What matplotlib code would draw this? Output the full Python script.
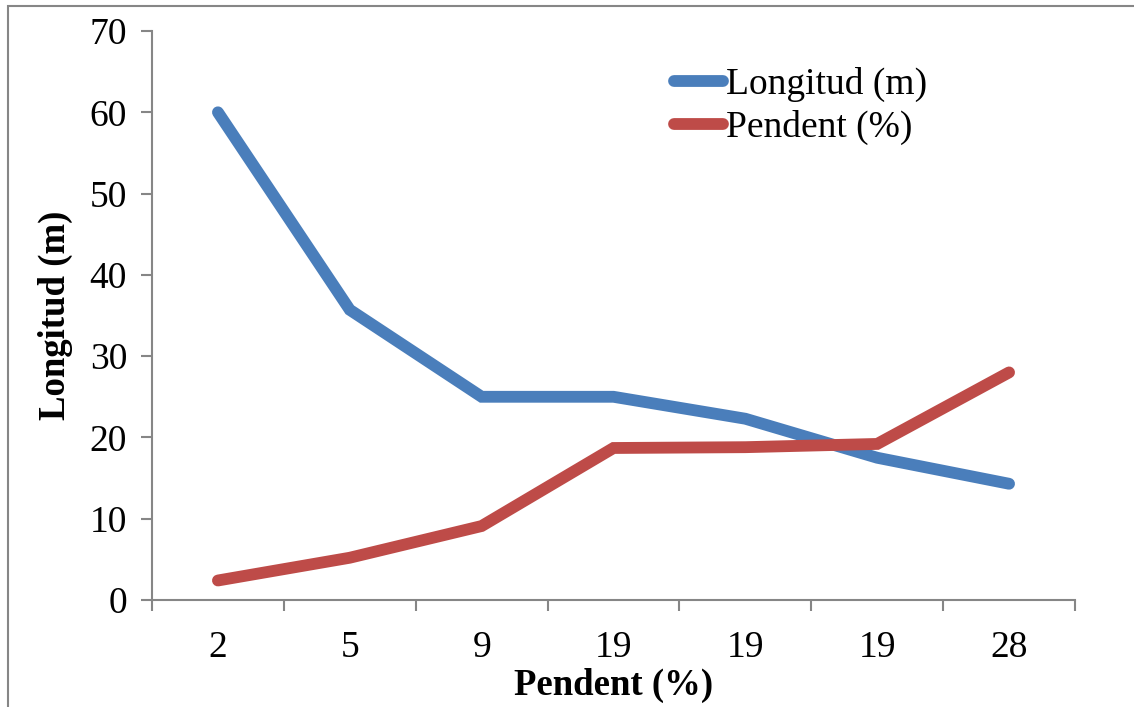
import matplotlib.pyplot as plt
from matplotlib.patches import Rectangle

categories = ['2', '5', '9', '19', '19', '19', '28']
longitud = [60.0, 35.7, 25.0, 25.0, 22.3, 17.5, 14.3]
pendent = [2.4, 5.2, 9.1, 18.7, 18.8, 19.2, 28.0]

blue = '#4A7EBB'
red = '#BE4B48'
grey = '#868686'

plt.rcParams['font.family'] = ['Liberation Serif', 'DejaVu Serif']

fig = plt.figure(figsize=(11.34, 7.07), dpi=100)
ax = fig.add_axes([152 / 1134, 1 - 600 / 707, 923 / 1134, 569 / 707])

x = list(range(len(categories)))
ax.plot(x, longitud, color=blue, lw=8.5, solid_capstyle='round',
        solid_joinstyle='miter', label='Longitud (m)')
ax.plot(x, pendent, color=red, lw=8.5, solid_capstyle='round',
        solid_joinstyle='miter', label='Pendent (%)')

ax.set_xlim(-0.5, len(categories) - 0.5)
ax.set_ylim(0, 70)
ax.set_yticks(range(0, 71, 10))

# category boundaries get tick marks, centres get labels
ax.set_xticks([i - 0.5 for i in range(len(categories) + 1)])
ax.set_xticklabels([])
ax.set_xticks(x, minor=True)
ax.set_xticklabels(categories, minor=True)
ax.tick_params(axis='x', which='minor', length=0, pad=22, labelsize=27)
ax.tick_params(axis='x', which='major', length=8, width=1.5, color=grey)
ax.tick_params(axis='y', length=8, width=1.5, color=grey, pad=10, labelsize=27)

for side in ['top', 'right']:
    ax.spines[side].set_visible(False)
for side in ['left', 'bottom']:
    ax.spines[side].set_color(grey)
    ax.spines[side].set_linewidth(1.5)

ax.set_xlabel('Pendent (%)', fontsize=26.5, fontweight='bold', labelpad=2)
ax.set_ylabel('Longitud (m)', fontsize=26.5, fontweight='bold', labelpad=12)

leg = ax.legend(loc='upper left', bbox_to_anchor=(0.537, 0.983), frameon=False,
                fontsize=27, handlelength=1.3, handletextpad=0.08,
                labelspacing=0.22, borderpad=0.2)

# outer chart frame
fig.patches.append(Rectangle((8 / 1134, -0.1), 1.2, 1.1 - 6 / 707,
                             transform=fig.transFigure, fill=False,
                             edgecolor=grey, lw=1.5))

fig.savefig('out.png', dpi=100)
